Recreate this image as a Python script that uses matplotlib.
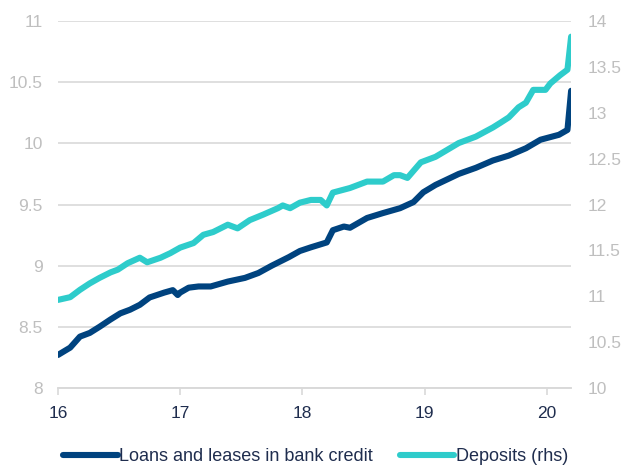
import matplotlib
matplotlib.use("Agg")
import matplotlib.pyplot as plt

# decimal years (16 = 2016)
loans_t = [16.00, 16.10, 16.18, 16.26, 16.34, 16.43, 16.51, 16.59, 16.67, 16.75,
           16.87, 16.94, 16.98, 17.00, 17.07, 17.15, 17.25, 17.39, 17.53, 17.64,
           17.75, 17.89, 17.98, 18.07, 18.20, 18.25, 18.34, 18.39, 18.53, 18.66,
           18.80, 18.91, 18.99, 19.09, 19.28, 19.42, 19.56, 19.69, 19.83, 19.95,
           20.10, 20.17, 20.20]
loans = [8.27, 8.33, 8.42, 8.45, 8.50, 8.56, 8.61, 8.64, 8.68, 8.74,
         8.78, 8.80, 8.76, 8.78, 8.82, 8.83, 8.83, 8.87, 8.90, 8.94,
         9.00, 9.07, 9.12, 9.15, 9.19, 9.29, 9.32, 9.31, 9.39, 9.43,
         9.47, 9.52, 9.60, 9.66, 9.75, 9.80, 9.86, 9.90, 9.96, 10.03,
         10.07, 10.11, 10.43]

dep_t = [16.00, 16.10, 16.18, 16.26, 16.34, 16.43, 16.49, 16.57, 16.67, 16.73,
         16.84, 16.92, 17.00, 17.11, 17.19, 17.27, 17.39, 17.47, 17.57, 17.68,
         17.80, 17.84, 17.90, 17.98, 18.07, 18.15, 18.20, 18.25, 18.39, 18.53,
         18.66, 18.75, 18.80, 18.86, 18.97, 19.09, 19.28, 19.42, 19.56, 19.62,
         19.69, 19.77, 19.83, 19.89, 19.99, 20.03, 20.11, 20.17, 20.20]
deposits = [10.96, 10.99, 11.07, 11.14, 11.20, 11.26, 11.29, 11.36, 11.42, 11.37,
            11.42, 11.47, 11.53, 11.58, 11.67, 11.70, 11.78, 11.74, 11.83, 11.89,
            11.96, 11.99, 11.96, 12.02, 12.05, 12.05, 11.99, 12.13, 12.18, 12.25,
            12.25, 12.32, 12.32, 12.29, 12.46, 12.52, 12.67, 12.74, 12.84, 12.89,
            12.95, 13.06, 13.11, 13.25, 13.25, 13.32, 13.41, 13.47, 13.83]

navy = '#00437f'
teal = '#2ecccb'
grid = '#d9d9d9'
plt.rcParams['font.family'] = ['Liberation Sans', 'DejaVu Sans']
plt.rcParams['font.size'] = 12

fig = plt.figure(figsize=(6.22, 4.68), dpi=100)
ax = fig.add_axes([0.0932, 0.171, 0.825, 0.784])
ax2 = ax.twinx()

l1, = ax.plot(loans_t, loans, color=navy, lw=4.4, solid_capstyle='round', zorder=3,
              label='Loans and leases in bank credit')
l2, = ax2.plot(dep_t, deposits, color=teal, lw=4.4, solid_capstyle='round', zorder=3,
               label='Deposits (rhs)')

ax.set_xlim(16, 20.2)
ax.set_ylim(8, 11)
ax2.set_ylim(10, 14)
ax.set_xticks([16, 17, 18, 19, 20])
ax.set_yticks([8, 8.5, 9, 9.5, 10, 10.5, 11])
ax.set_yticklabels(['8', '8.5', '9', '9.5', '10', '10.5', '11'])
ax2.set_yticks([10, 10.5, 11, 11.5, 12, 12.5, 13, 13.5, 14])
ax2.set_yticklabels(['10', '10.5', '11', '11.5', '12', '12.5', '13', '13.5', '14'])

ax.yaxis.grid(True, color=grid, lw=1.2)
ax.set_axisbelow(True)
for a in (ax, ax2):
    for s in ['top', 'left', 'right']:
        a.spines[s].set_visible(False)
    a.spines['bottom'].set_color(grid)
    a.spines['bottom'].set_linewidth(1.2)
ax.tick_params(axis='y', length=0, pad=11, colors='#bfbfbf', labelsize=12.5)
ax2.tick_params(axis='y', length=0, pad=12, colors='#bfbfbf', labelsize=12.5)
ax.tick_params(axis='x', length=5, width=1.2, color=grid, labelcolor='#1f2d4e', pad=8, labelsize=12.5)

fig.legend(handles=[l1, l2], loc='center', bbox_to_anchor=(0.508, 0.024), ncol=2,
           frameon=False, handlelength=3.0, handletextpad=0.1, columnspacing=1.5,
           labelcolor='#1f2d4e', fontsize=13)

fig.savefig('out.png', dpi=100)
